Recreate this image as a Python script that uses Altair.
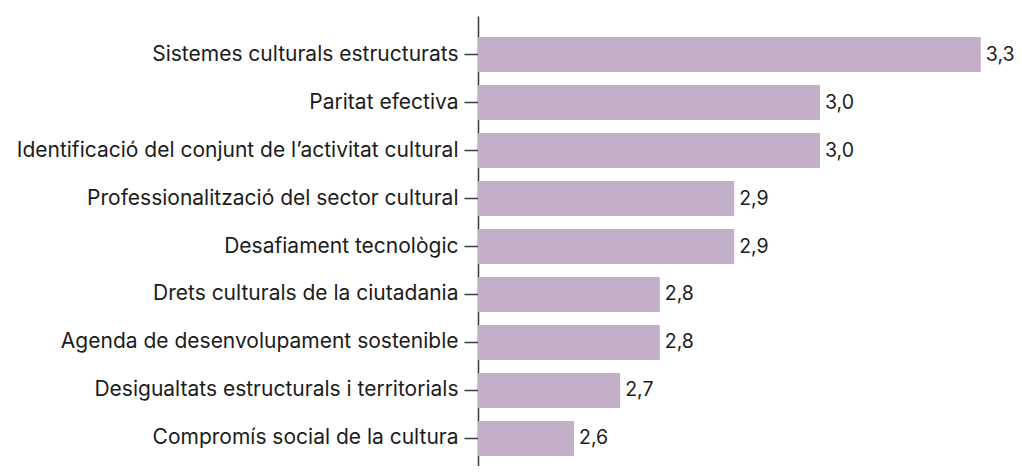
import altair as alt
import pandas as pd

categories = [
    "Sistemes culturals estructurats",
    "Paritat efectiva",
    "Identificació del conjunt de l’activitat cultural",
    "Professionalització del sector cultural",
    "Desafiament tecnològic",
    "Drets culturals de la ciutadania",
    "Agenda de desenvolupament sostenible",
    "Desigualtats estructurals i territorials",
    "Compromís social de la cultura",
]
values = [3.298, 3.030, 3.030, 2.887, 2.887, 2.763, 2.763, 2.697, 2.620]
labels = ["3,3", "3,0", "3,0", "2,9", "2,9", "2,8", "2,8", "2,7", "2,6"]

df = pd.DataFrame({"cat": categories, "val": values, "lab": labels})

FONT = "Inter"
W = 536
x_scale = alt.Scale(domain=[2.46, 2.46 + W / 600], range=[0, W], nice=False, zero=False)
y_scale = alt.Scale(domain=categories, range=[0, 461], paddingInner=0.27, paddingOuter=0.4375)

base = alt.Chart(df).encode(
    y=alt.Y("cat:N", sort=categories, scale=y_scale,
            axis=alt.Axis(title=None, labelFont=FONT, labelFontSize=21, labelColor="#1c1c1c",
                          labelPadding=6, tickSize=14, tickColor="#3a3a3a", tickWidth=1.5,
                          domainColor="#3a3a3a", domainWidth=1.5, labelLimit=600)),
)

bars = base.mark_bar(color="#c4afc9").encode(
    x=alt.X("val:Q", scale=x_scale, axis=None),
    x2=alt.datum(2.46),
)

text = base.mark_text(align="left", baseline="middle", dx=5, font=FONT, fontSize=19.5, color="#1c1c1c").encode(
    x=alt.X("val:Q", scale=x_scale, axis=None),
    text="lab:N",
)

chart = alt.layer(bars, text).properties(
    width=W, height=450, autosize="none",
    padding={"left": 470, "top": 8, "right": 0, "bottom": 0},
).configure_view(stroke=None)

chart.save("out.html", embed_options={"renderer": "svg", "actions": False})
